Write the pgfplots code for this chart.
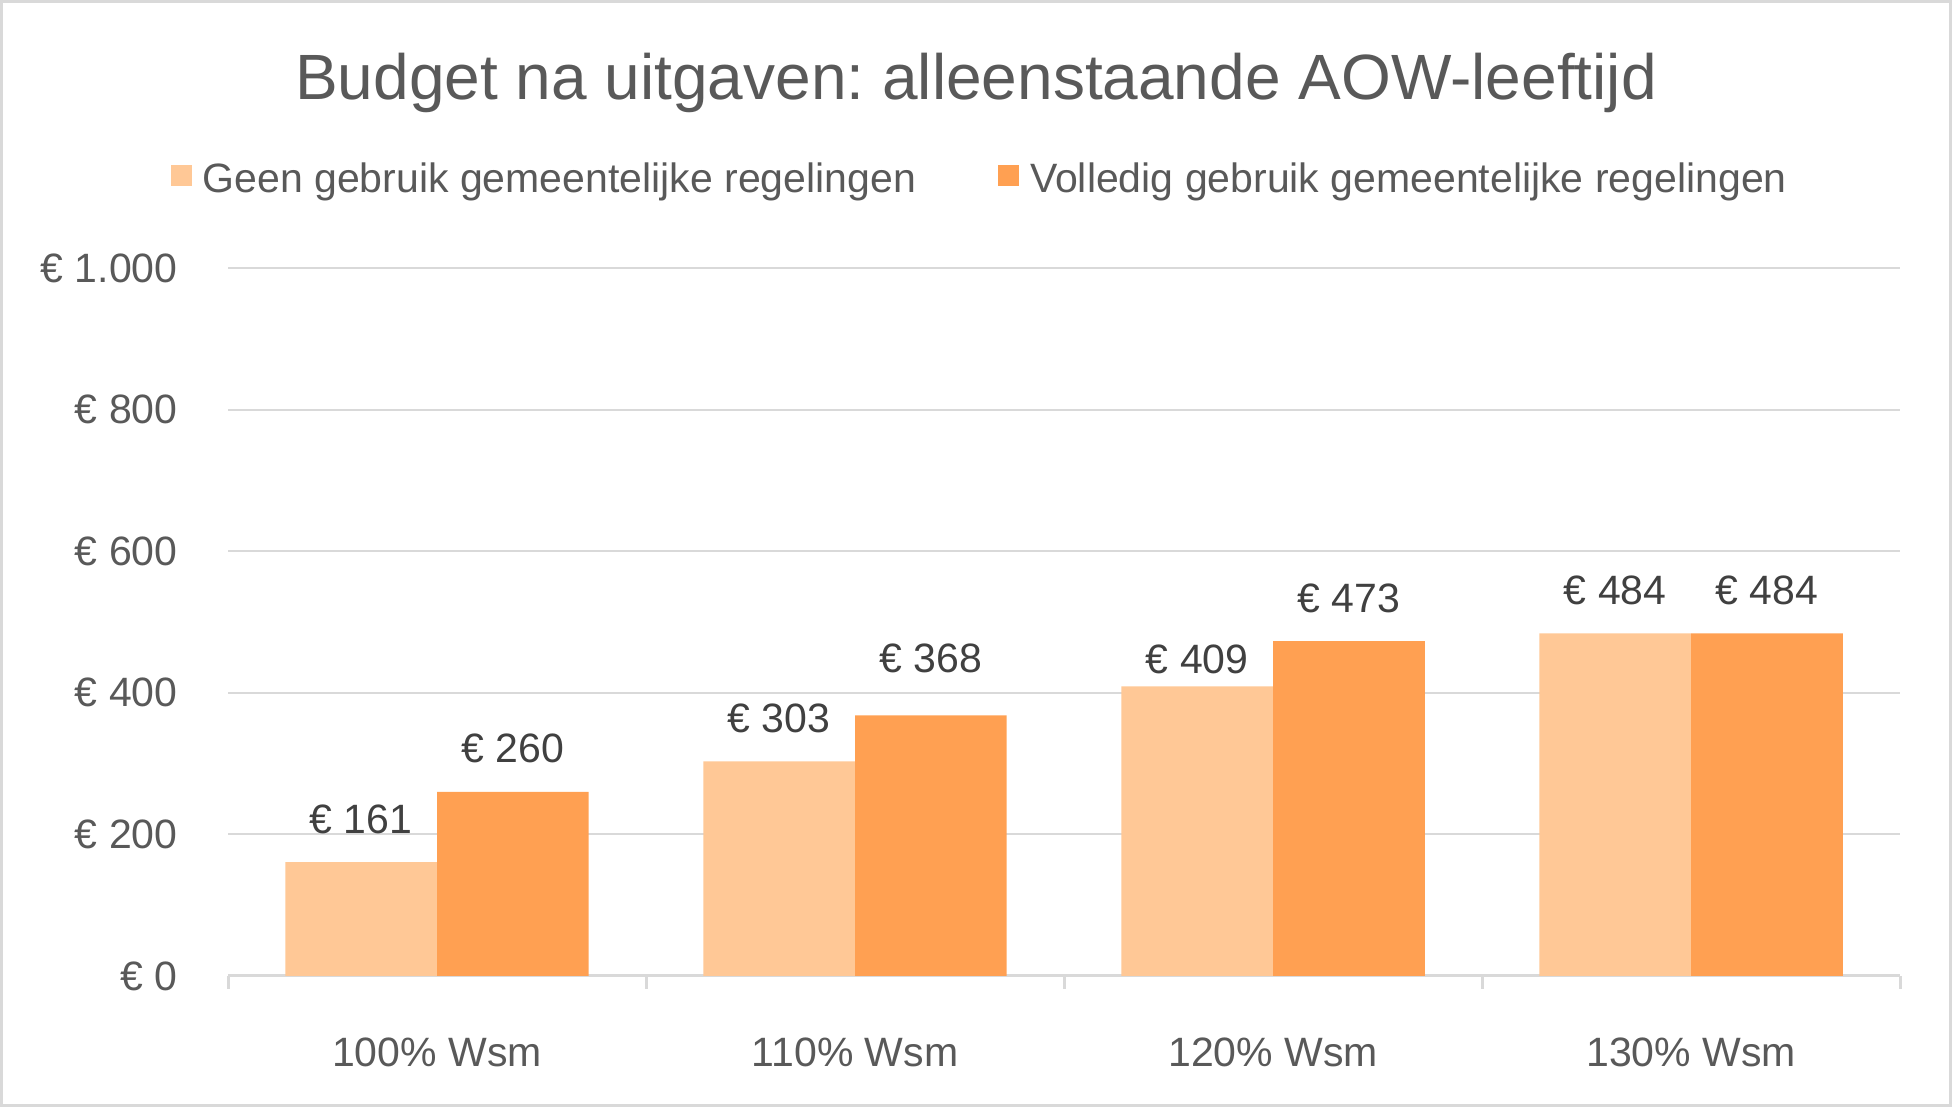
\documentclass[border=0pt]{standalone}
\usepackage{pgfplots}
\pgfplotsset{compat=1.18}
\usepackage{fontspec}
\setmainfont{Liberation Sans}
\frenchspacing
\definecolor{axgray}{HTML}{D9D9D9}
\definecolor{textgray}{HTML}{595959}
\definecolor{labgray}{HTML}{404040}
\definecolor{lightor}{HTML}{FFC896}
\definecolor{darkor}{HTML}{FFA052}
\begin{document}
\begin{tikzpicture}
\useasboundingbox (0,0) rectangle (976pt,553.5pt);
\fill[white] (0,0) rectangle (976pt,553.5pt);
\begin{axis}[
  at={(114pt,65.5pt)}, anchor=south west,
  width=836pt, height=354pt, scale only axis,
  xmin=-0.5, xmax=3.5, ymin=0, ymax=1000,
  /pgf/number format/assume math mode=true,
  axis x line*=bottom, axis y line*=left,
  x axis line style={draw=axgray, line width=1.5pt, -},
  y axis line style={draw=none},
  xtick={0,1,2,3},
  xticklabels={100\% Wsm,110\% Wsm,120\% Wsm,130\% Wsm},
  minor xtick={-0.5,0.5,1.5,2.5,3.5},
  major tick length=0pt,
  minor tick length=6.5pt,
  tick align=outside,
  xtick style={draw=axgray, line width=1.5pt},
  ytick={0,200,400,600,800,1000},
  yticklabels={€ 0,€ 200,€ 400,€ 600,€ 800,€ 1.000},
  ytick style={draw=none},
  ymajorgrids,
  major grid style={draw=axgray, line width=1pt},
  ticklabel style={font=\fontsize{20.5}{24}\selectfont, text=textgray},
  xticklabel style={anchor=base, yshift=-45.25pt},
  yticklabel style={anchor=east, inner sep=0pt, xshift=-25pt},
  ybar, bar width=0.363,
  nodes near coords={€ \pgfmathprintnumber{\pgfplotspointmeta}},
  every node near coord/.append style={anchor=base, yshift=14.5pt, font=\fontsize{20.5}{24}\selectfont, text=labgray},
  legend columns=2,
  legend style={at={(rel axis cs:0.449,1.1253)}, anchor=center, draw=none, fill=none,
    font=\fontsize{20.5}{24}\selectfont, text=textgray,
    nodes={inner sep=0pt},
    /tikz/every odd column/.append style={column sep=5.5pt},
    /tikz/every even column/.append style={column sep=41pt}},
  legend image code/.code={\fill[#1] (0pt,-3.4pt) rectangle (10.5pt,7.1pt);},
]
\addplot[fill=lightor, draw=none, bar shift=-0.1815,
  coordinate style/.condition={abs(x-2)<0.1}{yshift=-8pt}] coordinates {(0,161) (1,303) (2,409) (3,484)};
\addplot[fill=darkor, draw=none, bar shift=0.1815,
  coordinate style/.condition={abs(x-1)<0.1}{yshift=7pt}] coordinates {(0,260) (1,368) (2,473) (3,484)};
\legend{Geen gebruik gemeentelijke regelingen, Volledig gebruik gemeentelijke regelingen}
\end{axis}
\node[anchor=base, font=\fontsize{32}{38}\selectfont, text=textgray] at (488pt,503.7pt) {Budget na uitgaven: alleenstaande AOW-leeftijd};
\draw[axgray, line width=1.5pt] (0.75pt,0.75pt) rectangle (975.25pt,552.75pt);
\end{tikzpicture}
\end{document}
